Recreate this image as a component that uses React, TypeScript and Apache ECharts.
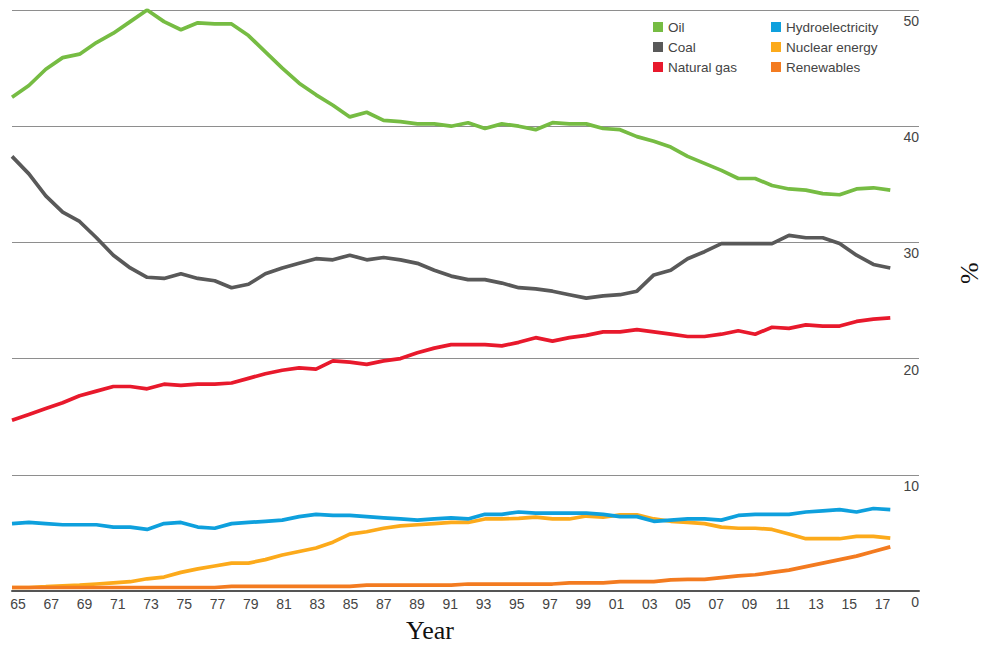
import React, { useEffect, useRef } from "react";
import * as echarts from "echarts";

const years: number[] = [];
for (let y = 1965; y <= 2017; y++) years.push(y);

const oil = [42.5, 43.5, 44.9, 45.9, 46.2, 47.2, 48.0, 49.0, 50.0, 49.0, 48.3, 48.9, 48.8, 48.8, 47.8, 46.4, 45.0, 43.7, 42.7, 41.8, 40.8, 41.2, 40.5, 40.4, 40.2, 40.2, 40.0, 40.3, 39.8, 40.2, 40.0, 39.7, 40.3, 40.2, 40.2, 39.8, 39.7, 39.1, 38.7, 38.2, 37.4, 36.8, 36.2, 35.5, 35.5, 34.9, 34.6, 34.5, 34.2, 34.1, 34.6, 34.7, 34.5];
const coal = [37.4, 35.9, 34.0, 32.6, 31.8, 30.4, 28.9, 27.8, 27.0, 26.9, 27.3, 26.9, 26.7, 26.1, 26.4, 27.3, 27.8, 28.2, 28.6, 28.5, 28.9, 28.5, 28.7, 28.5, 28.2, 27.6, 27.1, 26.8, 26.8, 26.5, 26.1, 26.0, 25.8, 25.5, 25.2, 25.4, 25.5, 25.8, 27.2, 27.6, 28.6, 29.2, 29.9, 29.9, 29.9, 29.9, 30.6, 30.4, 30.4, 29.9, 28.9, 28.1, 27.8];
const gas = [14.7, 15.2, 15.7, 16.2, 16.8, 17.2, 17.6, 17.6, 17.4, 17.8, 17.7, 17.8, 17.8, 17.9, 18.3, 18.7, 19.0, 19.2, 19.1, 19.8, 19.7, 19.5, 19.8, 20.0, 20.5, 20.9, 21.2, 21.2, 21.2, 21.1, 21.4, 21.8, 21.5, 21.8, 22.0, 22.3, 22.3, 22.5, 22.3, 22.1, 21.9, 21.9, 22.1, 22.4, 22.1, 22.7, 22.6, 22.9, 22.8, 22.8, 23.2, 23.4, 23.5];
const hydro = [5.8, 5.9, 5.8, 5.7, 5.7, 5.7, 5.5, 5.5, 5.3, 5.8, 5.9, 5.5, 5.4, 5.8, 5.9, 6.0, 6.1, 6.4, 6.6, 6.5, 6.5, 6.4, 6.3, 6.2, 6.1, 6.2, 6.3, 6.2, 6.6, 6.6, 6.8, 6.7, 6.7, 6.7, 6.7, 6.6, 6.4, 6.4, 6.0, 6.1, 6.2, 6.2, 6.1, 6.5, 6.6, 6.6, 6.6, 6.8, 6.9, 7.0, 6.8, 7.1, 7.0];
const nuclear = [0.3, 0.3, 0.37, 0.45, 0.5, 0.6, 0.7, 0.8, 1.05, 1.2, 1.6, 1.9, 2.15, 2.4, 2.4, 2.7, 3.1, 3.4, 3.7, 4.2, 4.9, 5.1, 5.4, 5.6, 5.7, 5.8, 5.9, 5.9, 6.2, 6.2, 6.25, 6.35, 6.2, 6.2, 6.45, 6.35, 6.55, 6.55, 6.2, 6.0, 5.9, 5.8, 5.5, 5.4, 5.4, 5.3, 4.9, 4.5, 4.5, 4.5, 4.7, 4.7, 4.55];
const renewables = [0.3, 0.3, 0.3, 0.3, 0.3, 0.3, 0.3, 0.3, 0.3, 0.3, 0.3, 0.3, 0.3, 0.4, 0.4, 0.4, 0.4, 0.4, 0.4, 0.4, 0.4, 0.5, 0.5, 0.5, 0.5, 0.5, 0.5, 0.6, 0.6, 0.6, 0.6, 0.6, 0.6, 0.7, 0.7, 0.7, 0.8, 0.8, 0.8, 0.95, 1.0, 1.0, 1.15, 1.3, 1.4, 1.6, 1.8, 2.1, 2.4, 2.7, 3.0, 3.4, 3.8];

const labelYears: number[] = [];
for (let y = 1965; y <= 2017; y += 2) labelYears.push(y);

const yTicks = [0, 10, 20, 30, 40, 50];

const colors = {
  oil: "#76bc43",
  coal: "#595959",
  gas: "#e8192c",
  hydro: "#0ea0dd",
  nuclear: "#fcaa1b",
  renewables: "#f37b20",
};

const FONT = "'Liberation Sans Narrow', 'Liberation Sans', Arial, sans-serif";

const toPairs = (vals: number[]) => years.map((y, i) => [y, vals[i]]);

// label positions slightly spread relative to data years (as in reference)
const labelPos = (y: number) => 1965.36 + (y - 1965) * 0.9843;

export default function App() {
  const ref = useRef<HTMLDivElement>(null);
  useEffect(() => {
    if (!ref.current) return;
    const chart = echarts.init(ref.current, undefined, { renderer: "svg" });
    const mk = (name: string, data: number[], color: string, z: number) => ({
      name,
      type: "line",
      data: toPairs(data),
      showSymbol: false,
      symbol: "none",
      lineStyle: { color, width: 3.7 },
      itemStyle: { color },
      z,
    });
    const legendText = { fontFamily: FONT, fontSize: 13.5, color: "#444" };
    chart.setOption({
      animation: false,
      backgroundColor: "#ffffff",
      grid: { left: 12, right: 65, top: 10, bottom: 56, containLabel: false },
      legend: [
        {
          data: ["Oil", "Coal", "Natural gas"],
          orient: "vertical",
          left: 648,
          top: 15,
          icon: "rect",
          itemWidth: 10,
          itemHeight: 10,
          itemGap: 6,
          textStyle: legendText,
          selectedMode: false,
        },
        {
          data: ["Hydroelectricity", "Nuclear energy", "Renewables"],
          orient: "vertical",
          left: 766,
          top: 15,
          icon: "rect",
          itemWidth: 10,
          itemHeight: 10,
          itemGap: 6,
          textStyle: legendText,
          selectedMode: false,
        },
      ],
      xAxis: {
        type: "value",
        min: 1965,
        max: 2018.7,
        axisLine: { show: true, lineStyle: { color: "#555", width: 2 } },
        axisTick: { show: false },
        splitLine: { show: false },
        axisLabel: {
          customValues: labelYears.map(labelPos),
          formatter: (v: number) => {
            const yr = Math.round(1965 + (v - 1965.36) / 0.9843);
            return String(yr % 100).padStart(2, "0");
          },
          fontFamily: FONT,
          fontSize: 14,
          color: "#444",
          margin: 6,
        },
      },
      yAxis: {
        type: "value",
        position: "right",
        min: 0,
        max: 50,
        interval: 10,
        axisLine: { show: false },
        axisTick: { show: false },
        splitLine: { show: true, lineStyle: { color: "#8e8e8e", width: 1 } },
        axisLabel: {
          inside: true,
          margin: 0,
          align: "right",
          verticalAlign: "top",
          padding: [4, 0, 0, 0],
          fontFamily: FONT,
          fontSize: 14,
          color: "#444",
          formatter: (v: number) => (yTicks.includes(v) ? String(v) : ""),
        },
      },
      series: [
        mk("Oil", oil, colors.oil, 2),
        mk("Coal", coal, colors.coal, 2),
        mk("Natural gas", gas, colors.gas, 2),
        mk("Nuclear energy", nuclear, colors.nuclear, 2),
        mk("Hydroelectricity", hydro, colors.hydro, 3),
        mk("Renewables", renewables, colors.renewables, 4),
      ],
      graphic: [
        {
          type: "text",
          left: 406,
          top: 617,
          style: {
            text: "Year",
            font: "26px 'Liberation Serif', 'Times New Roman', serif",
            fill: "#111",
          },
        },
        {
          type: "text",
          x: 956,
          y: 284,
          rotation: Math.PI / 2,
          style: {
            text: "%",
            font: "26px 'Liberation Serif', 'Times New Roman', serif",
            fill: "#111",
          },
        },
      ],
    });
    return () => chart.dispose();
  }, []);
  return (
    <div
      ref={ref}
      style={{ position: "fixed", left: 0, top: 0, width: 984, height: 647, background: "#fff" }}
    />
  );
}
